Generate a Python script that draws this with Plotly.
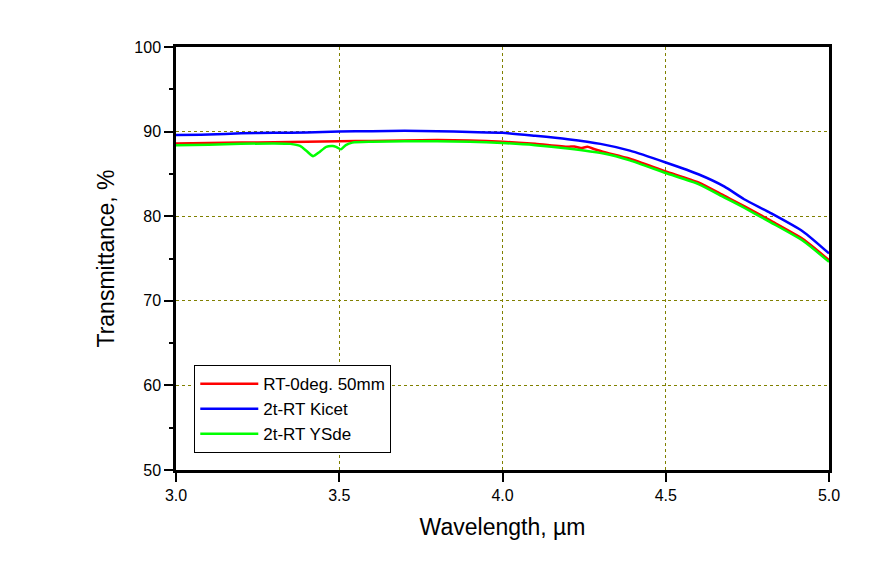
import plotly.graph_objects as go

# Data
x_red = [3.0, 3.1, 3.2, 3.3, 3.4, 3.5, 3.6, 3.7, 3.8, 3.9, 4.0, 4.1, 4.2, 4.22, 4.24, 4.26, 4.28, 4.31, 4.39, 4.5, 4.6, 4.68, 4.74, 4.82, 4.92, 5.0]
y_red = [88.6, 88.65, 88.7, 88.75, 88.8, 88.85, 88.9, 88.95, 89.0, 88.95, 88.8, 88.55, 88.2, 88.25, 88.05, 88.2, 87.95, 87.6, 86.8, 85.3, 84.0, 82.4, 81.2, 79.5, 77.3, 74.8]

x_blue = [3.0, 3.1, 3.2, 3.3, 3.4, 3.5, 3.6, 3.7, 3.8, 3.9, 4.0, 4.1, 4.2, 4.3, 4.39, 4.5, 4.6, 4.68, 4.74, 4.82, 4.92, 5.0]
y_blue = [89.6, 89.65, 89.8, 89.85, 89.9, 90.0, 90.05, 90.1, 90.05, 89.95, 89.85, 89.5, 89.1, 88.55, 87.75, 86.35, 84.96, 83.5, 82.0, 80.4, 78.2, 75.6]

x_green = [3.0, 3.1, 3.2, 3.3, 3.35, 3.38, 3.40, 3.42, 3.44, 3.46, 3.48, 3.49, 3.505, 3.52, 3.54, 3.6, 3.7, 3.8, 3.9, 4.0, 4.1, 4.2, 4.31, 4.39, 4.5, 4.6, 4.68, 4.74, 4.82, 4.92, 5.0]
y_green = [88.4, 88.45, 88.55, 88.6, 88.55, 88.3, 87.7, 87.1, 87.6, 88.2, 88.3, 88.2, 87.9, 88.4, 88.7, 88.8, 88.85, 88.85, 88.8, 88.65, 88.4, 88.0, 87.4, 86.6, 85.1, 83.8, 82.2, 81.0, 79.3, 77.1, 74.6]

names = ["RT-0deg. 50mm", "2t-RT Kicet", "2t-RT YSde"]
colors = ["#ff0000", "#0000ff", "#00ff00"]

x_ticks = [3.0, 3.5, 4.0, 4.5, 5.0]
x_ticktext = ["3.0", "3.5", "4.0", "4.5", "5.0"]
y_ticks = [50, 60, 70, 80, 90, 100]
y_minor = [55, 65, 75, 85, 95]

FONT = "Arial, Liberation Sans, sans-serif"

fig = go.Figure()
for xs, ys, n, c in [(x_red, y_red, names[0], colors[0]),
                     (x_blue, y_blue, names[1], colors[1]),
                     (x_green, y_green, names[2], colors[2])]:
    fig.add_trace(go.Scatter(x=xs, y=ys, name=n, mode="lines",
                             line=dict(color=c, width=2.5, shape="spline", smoothing=0.6)))

fig.update_layout(
    width=887, height=570,
    margin=dict(l=176, r=58, t=47, b=100),
    paper_bgcolor="white", plot_bgcolor="white",
    font=dict(family=FONT, color="black", size=16),
    showlegend=True,
    legend=dict(x=0.028, y=0.248, xanchor="left", yanchor="top",
                bgcolor="white", bordercolor="black", borderwidth=1,
                font=dict(size=17, family=FONT), tracegroupgap=0,
                itemwidth=58),
)
fig.update_xaxes(
    range=[3.0, 5.0], tickvals=x_ticks, ticktext=x_ticktext,
    showline=True, linecolor="black", linewidth=2.5, mirror=True,
    ticks="outside", ticklen=9, tickwidth=2, tickcolor="black",
    showgrid=True, gridcolor="#808000", gridwidth=1, griddash="dot",
    zeroline=False,
    title=dict(text="Wavelength, \u00b5m", font=dict(size=23, family=FONT), standoff=16),
    tickfont=dict(size=16),
)
fig.update_yaxes(
    range=[50, 100], tickvals=y_ticks,
    showline=True, linecolor="black", linewidth=2.5, mirror=True,
    ticks="outside", ticklen=9, tickwidth=2, tickcolor="black",
    minor=dict(tickvals=y_minor, ticks="outside", ticklen=4, tickwidth=2, tickcolor="black", showgrid=False),
    showgrid=True, gridcolor="#808000", gridwidth=1, griddash="dot",
    zeroline=False,
    title=dict(text="Transmittance, %", font=dict(size=23, family=FONT), standoff=14),
    tickfont=dict(size=16),
)

fig.write_html("out.html")
